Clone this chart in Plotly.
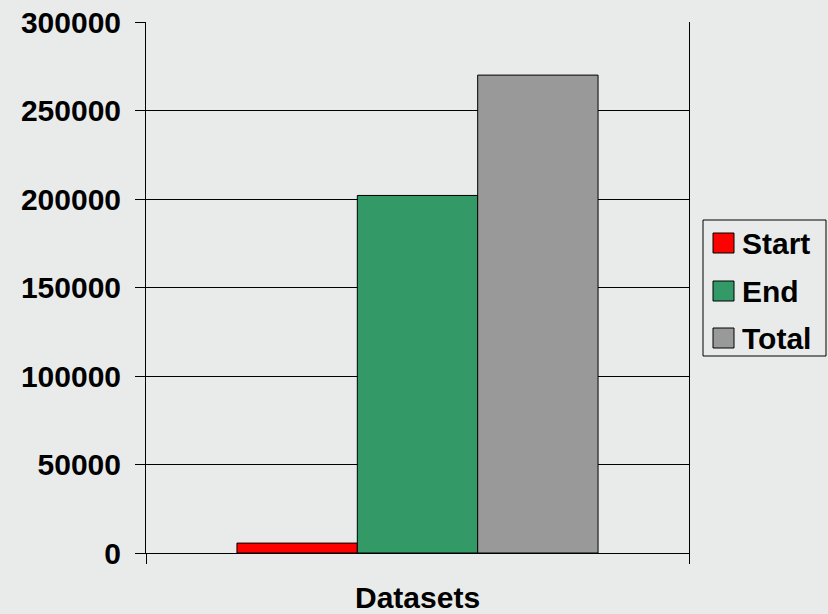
import plotly.graph_objects as go

# Data
categories = ["Datasets"]
series_names = ["Start", "End", "Total"]
series_values = [[5600], [202000], [270000]]
series_colors = ["#ff0000", "#339966", "#999999"]
y_tickvals = [0, 50000, 100000, 150000, 200000, 250000, 300000]
y_ticktext = ["0", "50000", "100000", "150000", "200000", "250000", "300000"]

W, H = 828, 614
L, R, T, B = 146, 689, 22, 553
FONT = "Liberation Sans, Arial, sans-serif"
FS = 30

def px(x):
    return (x - L) / (R - L)

def py(y):
    return (B - y) / (B - T)

fig = go.Figure()
for name, vals, col in zip(series_names, series_values, series_colors):
    fig.add_trace(go.Bar(
        x=categories, y=vals, name=name,
        marker=dict(color=col, line=dict(color="black", width=1)),
        showlegend=False,
    ))

shapes = []
annotations = []
# custom legend box
shapes.append(dict(type="rect", xref="paper", yref="paper",
                   x0=px(703), x1=px(826), y0=py(356), y1=py(220),
                   line=dict(color="black", width=1), fillcolor="rgba(0,0,0,0)"))
centers = [243, 291, 338]
for name, col, cy in zip(series_names, series_colors, centers):
    shapes.append(dict(type="rect", xref="paper", yref="paper",
                       x0=px(713), x1=px(734), y0=py(cy + 10), y1=py(cy - 10),
                       line=dict(color="black", width=1), fillcolor=col))
    annotations.append(dict(xref="paper", yref="paper", x=px(740), y=py(cy),
                            xanchor="left", yanchor="middle", showarrow=False,
                            text="<b>%s</b>" % name,
                            font=dict(family=FONT, size=FS, color="black")))

annotations.append(dict(xref="paper", yref="paper", x=0.5, y=py(597),
                        xanchor="center", yanchor="middle", showarrow=False,
                        text="<b>Datasets</b>",
                        font=dict(family=FONT, size=FS, color="black")))

fig.update_layout(
    width=W, height=H, autosize=False,
    margin=dict(l=L, r=W - R, t=T, b=H - B, pad=0, autoexpand=False),
    paper_bgcolor="#e9ebea",
    plot_bgcolor="rgba(0,0,0,0)",
    barmode="group",
    bargap=0.335,
    bargroupgap=0,
    shapes=shapes,
    annotations=annotations,
    font=dict(family=FONT, size=FS, color="black"),
    xaxis=dict(
        showticklabels=False, ticks="outside", ticklen=10, tickcolor="black",
        tickson="boundaries", showline=True, linecolor="black", linewidth=1,
        showgrid=False, zeroline=False, automargin=False,
    ),
    yaxis=dict(
        range=[0, 300000], tickvals=y_tickvals, ticktext=["<b>%s</b>" % t for t in y_ticktext],
        ticks="outside", ticklen=10, tickcolor="black",
        showline=True, linecolor="black", linewidth=1, mirror=True,
        showgrid=True, gridcolor="black", gridwidth=1, zeroline=False,
        ticklabelstandoff=8, automargin=False,
        tickfont=dict(family=FONT, size=FS, color="black"),
    ),
)

fig.write_html("out.html", config={"displayModeBar": False},
               post_script="document.body.style.margin='0';document.body.style.padding='0';document.body.style.overflow='hidden';")
